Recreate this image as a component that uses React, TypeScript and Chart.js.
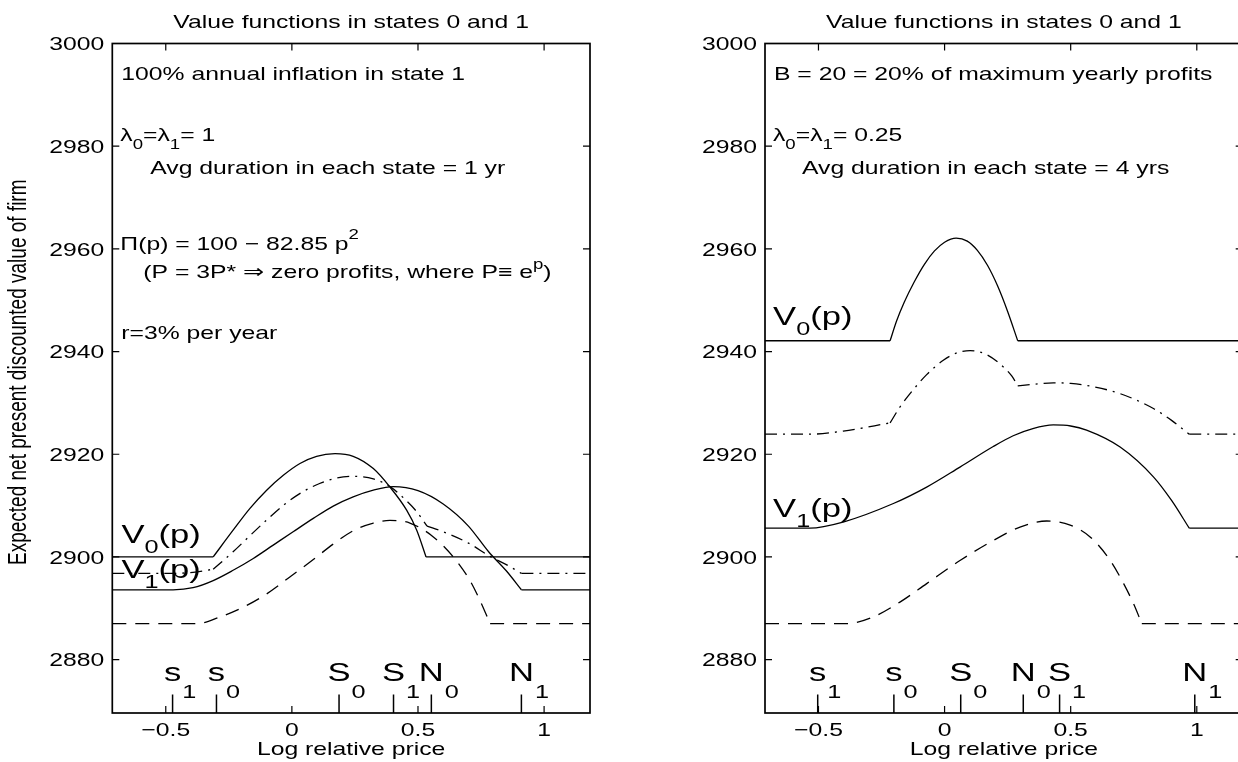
import React, { useEffect, useRef } from "react";
import { Chart, registerables } from "chart.js";
Chart.register(...registerables);

type Pt = [number, number];
type Part = { t: string; size?: number; dy?: number };

// ---------- axes ----------
const X_MIN = -0.712;
const X_MAX = 1.182;
const Y_MIN = 2869.6;
const Y_MAX = 3000;
const X_TICKS = [-0.5, 0, 0.5, 1];
const X_TICK_LABELS = ["\u22120.5", "0", "0.5", "1"];
const Y_TICKS = [2880, 2900, 2920, 2940, 2960, 2980, 3000];
const Y_TICK_LABELS = ["2880", "2900", "2920", "2940", "2960", "2980", "3000"];
const TITLE = "Value functions in states 0 and 1";
const X_LABEL = "Log relative price";
const Y_LABEL = "Expected net present discounted value of firm";

// ---------- left panel (100% inflation in state 1) ----------
const L_V0: Pt[][] = [
  [[X_MIN, 2900.0], [-0.312, 2900.0]],
  [[-0.312, 2900.0], [-0.233, 2905.2], [-0.167, 2909.4], [-0.1, 2913.0], [-0.034, 2915.9], [0.032, 2918.2], [0.098, 2919.6], [0.171, 2920.1], [0.243, 2919.6], [0.323, 2917.2], [0.389, 2913.6], [0.455, 2909.1], [0.495, 2905.2], [0.532, 2900.0]],
  [[0.532, 2900.0], [X_MAX, 2900.0]],
];
const L_V1: Pt[][] = [
  [[X_MIN, 2893.6], [-0.471, 2893.6], [-0.392, 2894.0], [-0.312, 2895.4], [-0.233, 2897.4], [-0.153, 2899.7], [-0.074, 2902.3], [0.005, 2904.9], [0.085, 2907.5], [0.164, 2909.9], [0.243, 2911.7], [0.323, 2913.0], [0.402, 2913.7], [0.5, 2912.9], [0.6, 2910.3], [0.7, 2906.0], [0.78, 2901.0], [0.85, 2897.3], [0.91, 2893.6]],
  [[0.91, 2893.6], [X_MAX, 2893.6]],
];
const L_MEAN: Pt[][] = [
  [[X_MIN, 2896.8], [-0.471, 2896.8], [-0.392, 2897.0], [-0.312, 2897.6]],
  [[-0.312, 2897.6], [-0.233, 2901.0], [-0.167, 2904.1], [-0.1, 2907.2], [-0.03, 2910.2], [0.04, 2912.6], [0.11, 2914.3], [0.171, 2915.3], [0.243, 2915.7], [0.323, 2915.2], [0.389, 2913.7], [0.455, 2910.9], [0.495, 2908.8], [0.536, 2906.0]],
  [[0.536, 2906.0], [0.6, 2904.9], [0.7, 2902.7], [0.786, 2900.1], [0.85, 2898.5], [0.91, 2896.8]],
  [[0.91, 2896.8], [X_MAX, 2896.8]],
];
const L_BENCH: Pt[][] = [
  [[X_MIN, 2887.0], [-0.378, 2887.0], [-0.286, 2888.3], [-0.193, 2890.2], [-0.1, 2892.8], [-0.008, 2896.1], [0.085, 2899.5], [0.164, 2902.5], [0.243, 2905.1], [0.323, 2906.6], [0.389, 2907.1], [0.468, 2906.6], [0.561, 2903.9], [0.64, 2900.0], [0.706, 2895.4], [0.746, 2891.5], [0.786, 2887.0]],
  [[0.786, 2887.0], [X_MAX, 2887.0]],
];
const L_MARK_X = [-0.473, -0.299, 0.187, 0.403, 0.553, 0.91];
const L_MARK_MAIN = ["s", "s", "S", "S", "N", "N"];
const L_MARK_SUB = ["1", "0", "0", "1", "0", "1"];

// ---------- right panel (B = 20) ----------
const R_V0: Pt[][] = [
  [[X_MIN, 2942.1], [-0.216, 2942.1]],
  [[-0.216, 2942.1], [-0.19, 2946.0], [-0.16, 2949.6], [-0.12, 2953.6], [-0.08, 2957.0], [-0.04, 2959.6], [0.0, 2961.3], [0.046, 2962.1], [0.09, 2961.5], [0.13, 2959.7], [0.17, 2956.8], [0.21, 2952.8], [0.25, 2947.8], [0.29, 2942.1]],
  [[0.29, 2942.1], [X_MAX, 2942.1]],
];
const R_V1: Pt[][] = [
  [[X_MIN, 2905.6], [-0.534, 2905.6], [-0.402, 2906.8], [-0.203, 2910.4], [-0.071, 2913.6], [0.061, 2917.5], [0.193, 2921.5], [0.272, 2923.6], [0.35, 2925.0], [0.431, 2925.7], [0.5, 2925.5], [0.563, 2924.7], [0.696, 2921.4], [0.828, 2915.6], [0.9, 2911.0], [0.97, 2905.6]],
  [[0.97, 2905.6], [X_MAX, 2905.6]],
];
const R_MEAN: Pt[][] = [
  [[X_MIN, 2923.9], [-0.534, 2923.9], [-0.402, 2924.5], [-0.216, 2926.1]],
  [[-0.216, 2926.1], [-0.177, 2929.2], [-0.137, 2931.8], [-0.071, 2935.5], [-0.005, 2938.3], [0.046, 2939.7], [0.101, 2940.2], [0.167, 2939.4], [0.233, 2937.0], [0.267, 2935.2], [0.29, 2933.3]],
  [[0.29, 2933.3], [0.35, 2933.6], [0.431, 2933.9], [0.5, 2933.8], [0.563, 2933.4], [0.696, 2931.8], [0.828, 2928.9], [0.9, 2926.6], [0.97, 2923.9]],
  [[0.97, 2923.9], [X_MAX, 2923.9]],
];
const R_BENCH: Pt[][] = [
  [[X_MIN, 2887.0], [-0.389, 2887.0], [-0.283, 2888.3], [-0.177, 2891.2], [-0.071, 2894.8], [0.061, 2899.3], [0.193, 2903.2], [0.299, 2905.8], [0.405, 2907.0], [0.498, 2906.2], [0.577, 2903.9], [0.657, 2899.3], [0.71, 2894.8], [0.749, 2890.9], [0.782, 2887.0]],
  [[0.782, 2887.0], [X_MAX, 2887.0]],
];
const R_MARK_X = [-0.503, -0.201, 0.064, 0.312, 0.456, 0.992];
const R_MARK_MAIN = ["s", "s", "S", "N", "S", "N"];
const R_MARK_SUB = ["1", "0", "0", "0", "1", "1"];

// ---------- styling ----------
const FONT = '"Liberation Sans", Arial, Helvetica, sans-serif';
const SX = 1.33; // horizontal stretch of the original figure's lettering
const BASE = 18.6;
const SOLID: number[] = [];
const DASHED = [14, 9];
const DASHDOT = [12, 6, 2, 6];

type Note = { dx: number; y: number; parts: Part[] };
type VLabel = { x: number; y: number; sub: string };
type PanelCfg = {
  curves: { pieces: Pt[][]; dash: number[] }[];
  notes: Note[];
  vlabels: VLabel[];
  markX: number[];
  markMain: string[];
  markSub: string[];
  yLabel: boolean;
};

const LEFT: PanelCfg = {
  curves: [
    { pieces: L_V0, dash: SOLID },
    { pieces: L_V1, dash: SOLID },
    { pieces: L_MEAN, dash: DASHDOT },
    { pieces: L_BENCH, dash: DASHED },
  ],
  notes: [
    { dx: 9, y: 80, parts: [{ t: "100% annual inflation in state 1" }] },
    { dx: 8, y: 141, parts: [{ t: "\u03bb" }, { t: "0", size: 14, dy: 8 }, { t: "=\u03bb" }, { t: "1", size: 14, dy: 8 }, { t: "= 1" }] },
    { dx: 38, y: 174, parts: [{ t: "Avg duration in each state = 1 yr" }] },
    { dx: 8, y: 250, parts: [{ t: "\u03a0(p) = 100 \u2212 82.85 p" }, { t: "2", size: 14, dy: -11 }] },
    { dx: 31, y: 278, parts: [{ t: "(P = 3P* \u21d2 zero profits, where P\u2261 e" }, { t: "p", size: 14, dy: -9 }, { t: ")" }] },
    { dx: 9, y: 339, parts: [{ t: "r=3% per year" }] },
  ],
  vlabels: [
    { x: -0.676, y: 2902.7, sub: "0" },
    { x: -0.676, y: 2895.9, sub: "1" },
  ],
  markX: L_MARK_X,
  markMain: L_MARK_MAIN,
  markSub: L_MARK_SUB,
  yLabel: true,
};

const RIGHT: PanelCfg = {
  curves: [
    { pieces: R_V0, dash: SOLID },
    { pieces: R_V1, dash: SOLID },
    { pieces: R_MEAN, dash: DASHDOT },
    { pieces: R_BENCH, dash: DASHED },
  ],
  notes: [
    { dx: 9, y: 80, parts: [{ t: "B = 20 = 20% of maximum yearly profits" }] },
    { dx: 8, y: 141, parts: [{ t: "\u03bb" }, { t: "0", size: 14, dy: 8 }, { t: "=\u03bb" }, { t: "1", size: 14, dy: 8 }, { t: "= 0.25" }] },
    { dx: 37, y: 174, parts: [{ t: "Avg duration in each state = 4 yrs" }] },
  ],
  vlabels: [
    { x: -0.68, y: 2945.1, sub: "0" },
    { x: -0.68, y: 2907.7, sub: "1" },
  ],
  markX: R_MARK_X,
  markMain: R_MARK_MAIN,
  markSub: R_MARK_SUB,
  yLabel: false,
};

function partWidths(ctx: CanvasRenderingContext2D, parts: Part[]) {
  return parts.map((p) => {
    ctx.font = `${p.size ?? BASE}px ${FONT}`;
    return ctx.measureText(p.t).width * SX;
  });
}

function drawRich(ctx: CanvasRenderingContext2D, x: number, y: number, parts: Part[], align: "left" | "center" | "right") {
  const w = partWidths(ctx, parts);
  const total = w.reduce((a, b) => a + b, 0);
  let cx = align === "left" ? x : align === "center" ? x - total / 2 : x - total;
  parts.forEach((p, i) => {
    ctx.save();
    ctx.font = `${p.size ?? BASE}px ${FONT}`;
    ctx.textAlign = "left";
    ctx.textBaseline = "alphabetic";
    ctx.fillStyle = "#000";
    ctx.translate(cx, y + (p.dy ?? 0));
    ctx.scale(SX, 1);
    ctx.fillText(p.t, 0, 0);
    ctx.restore();
    cx += w[i];
  });
}

function decor(cfg: PanelCfg) {
  return {
    id: "decor",
    afterDraw(chart: any) {
      const { ctx, chartArea: a } = chart;
      const xs = chart.scales.x;
      const ys = chart.scales.y;
      ctx.save();
      ctx.strokeStyle = "#000";
      ctx.setLineDash([]);
      // box
      ctx.lineWidth = 1.7;
      ctx.strokeRect(a.left, a.top, a.right - a.left, a.bottom - a.top);
      // inward ticks on all sides
      const TL = 7;
      ctx.lineWidth = 1.2;
      ctx.beginPath();
      X_TICKS.forEach((v) => {
        const px = xs.getPixelForValue(v);
        ctx.moveTo(px, a.bottom);
        ctx.lineTo(px, a.bottom - TL);
        ctx.moveTo(px, a.top);
        ctx.lineTo(px, a.top + TL);
      });
      Y_TICKS.forEach((v) => {
        const py = ys.getPixelForValue(v);
        ctx.moveTo(a.left, py);
        ctx.lineTo(a.left + TL, py);
        ctx.moveTo(a.right, py);
        ctx.lineTo(a.right - TL, py);
      });
      ctx.stroke();
      // tick labels
      X_TICKS.forEach((v, i) => {
        drawRich(ctx, xs.getPixelForValue(v), a.bottom + 23, [{ t: X_TICK_LABELS[i] }], "center");
      });
      Y_TICKS.forEach((v, i) => {
        drawRich(ctx, a.left - 8, ys.getPixelForValue(v) + 6.7, [{ t: Y_TICK_LABELS[i] }], "right");
      });
      const cxm = (a.left + a.right) / 2;
      drawRich(ctx, cxm, a.top - 16, [{ t: TITLE }], "center");
      drawRich(ctx, cxm, a.bottom + 42, [{ t: X_LABEL }], "center");
      if (cfg.yLabel) {
        ctx.save();
        ctx.font = `19px ${FONT}`;
        ctx.fillStyle = "#000";
        ctx.textAlign = "center";
        ctx.textBaseline = "alphabetic";
        ctx.translate(a.left - 86, (a.top + a.bottom) / 2 - 6);
        ctx.scale(SX, 1);
        ctx.rotate(-Math.PI / 2);
        ctx.fillText(Y_LABEL, 0, 0);
        ctx.restore();
      }
      // annotations
      cfg.notes.forEach((n) => drawRich(ctx, a.left + n.dx, n.y, n.parts, "left"));
      // value-function labels
      cfg.vlabels.forEach((v) => {
        drawRich(ctx, xs.getPixelForValue(v.x), ys.getPixelForValue(v.y), [
          { t: "V", size: 26 },
          { t: v.sub, size: 19, dy: 10 },
          { t: "(p)", size: 26 },
        ], "left");
      });
      // trigger markers
      ctx.lineWidth = 1.5;
      ctx.beginPath();
      cfg.markX.forEach((mx) => {
        const px = xs.getPixelForValue(mx);
        ctx.moveTo(px, a.bottom);
        ctx.lineTo(px, a.bottom - 18.5);
      });
      ctx.stroke();
      cfg.markX.forEach((mx, i) => {
        const px = xs.getPixelForValue(mx);
        ctx.font = `26px ${FONT}`;
        const mw = ctx.measureText(cfg.markMain[i]).width * SX;
        drawRich(ctx, px, a.bottom - 32, [{ t: cfg.markMain[i], size: 26 }], "center");
        drawRich(ctx, px + mw / 2 + 1, a.bottom - 15, [{ t: cfg.markSub[i], size: 19 }], "left");
      });
      ctx.restore();
    },
  };
}

function Panel({ cfg, left, width, padLeft, padRight }: { cfg: PanelCfg; left: number; width: number; padLeft: number; padRight: number }) {
  const ref = useRef<HTMLCanvasElement | null>(null);
  useEffect(() => {
    if (!ref.current) return;
    const datasets: any[] = [];
    cfg.curves.forEach((c) =>
      c.pieces.forEach((p) =>
        datasets.push({
          data: p.map(([x, y]) => ({ x, y })),
          borderColor: "#000",
          borderWidth: 1.3,
          borderDash: c.dash,
          pointRadius: 0,
          fill: false,
          cubicInterpolationMode: "monotone",
        })
      )
    );
    const chart = new Chart(ref.current, {
      type: "line",
      data: { datasets },
      options: {
        animation: false,
        responsive: false,
        devicePixelRatio: 1,
        events: [],
        layout: { padding: { left: padLeft, right: padRight, top: 43.5, bottom: 49 } },
        plugins: { legend: { display: false }, tooltip: { enabled: false }, title: { display: false } },
        scales: {
          x: { type: "linear", min: X_MIN, max: X_MAX, display: false },
          y: { type: "linear", min: Y_MIN, max: Y_MAX, display: false },
        },
      } as any,
      plugins: [decor(cfg)],
    });
    return () => chart.destroy();
  }, [cfg, padLeft, padRight]);
  return (
    <canvas
      ref={ref}
      width={width}
      height={762}
      style={{ position: "absolute", left, top: 0, width, height: 762 }}
    />
  );
}

export default function App() {
  return (
    <div style={{ position: "fixed", left: 0, top: 0, width: 1238, height: 762, overflow: "hidden", background: "#fff" }}>
      <Panel cfg={LEFT} left={0} width={620} padLeft={112.3} padRight={30} />
      <Panel cfg={RIGHT} left={620} width={660} padLeft={145} padRight={37.3} />
    </div>
  );
}
